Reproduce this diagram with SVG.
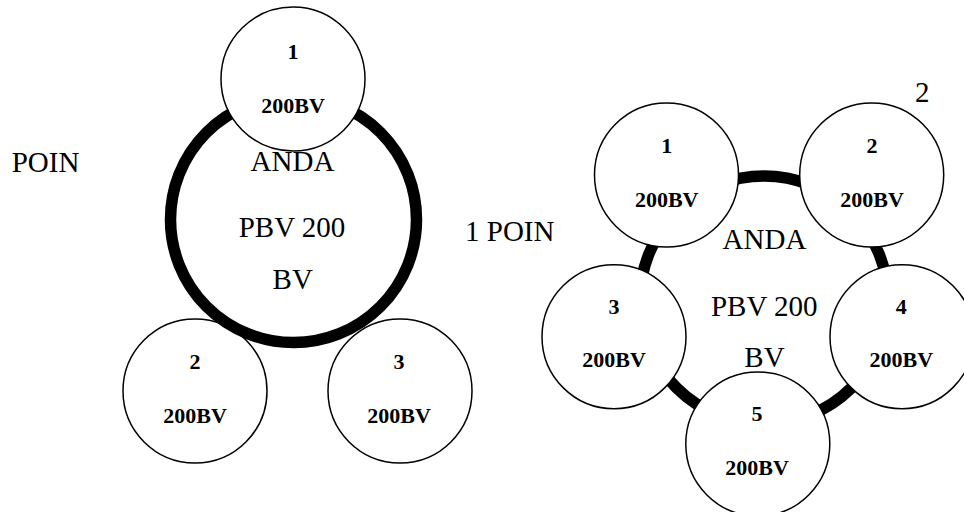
<svg xmlns="http://www.w3.org/2000/svg" width="964" height="512" viewBox="0 0 964 512">
  <style>
    .node { fill: #ffffff; stroke: #000000; stroke-width: 1.5; }
    .ring { fill: none; stroke: #000000; stroke-width: 11.5; }
    .lbl { font-family: "Liberation Serif", "Times New Roman", serif; font-weight: bold; font-size: 22px; fill: #000000; text-anchor: middle; }
    .big { font-family: "Liberation Serif", "Times New Roman", serif; font-size: 29px; fill: #000000; }
    .mid { text-anchor: middle; }
  </style>
  <rect width="964" height="512" fill="#ffffff"/>

  <!-- Left diagram -->
  <g id="left-node-2">
    <circle class="node" cx="195" cy="391" r="72"/>
    <text class="lbl" x="195" y="369">2</text>
    <text class="lbl" x="195" y="423">200BV</text>
  </g>
  <g id="left-node-3">
    <circle class="node" cx="400" cy="391" r="72"/>
    <text class="lbl" x="399" y="369">3</text>
    <text class="lbl" x="399" y="423">200BV</text>
  </g>
  <g id="left-hub">
    <circle class="ring" cx="293.5" cy="219.5" r="123"/>
    <text class="big mid" x="292.5" y="171">ANDA</text>
    <text class="big mid" x="292" y="237">PBV 200</text>
    <text class="big mid" x="292.7" y="289">BV</text>
  </g>
  <g id="left-node-1">
    <circle class="node" cx="293" cy="79" r="72"/>
    <text class="lbl" x="293" y="59">1</text>
    <text class="lbl" x="293" y="113">200BV</text>
  </g>
  <g id="left-caption">
    <text class="big" x="11.7" y="172">POIN</text>
  </g>

  <!-- Right diagram -->
  <g id="right-hub">
    <circle class="ring" cx="764" cy="300" r="124"/>
    <text class="big mid" x="764.5" y="249">ANDA</text>
    <text class="big mid" x="764.3" y="316">PBV 200</text>
    <text class="big mid" x="764.5" y="367">BV</text>
  </g>
  <g id="right-node-1">
    <circle class="node" cx="666.5" cy="175" r="72"/>
    <text class="lbl" x="666.7" y="153">1</text>
    <text class="lbl" x="666.7" y="207">200BV</text>
  </g>
  <g id="right-node-2">
    <circle class="node" cx="871.7" cy="175" r="72"/>
    <text class="lbl" x="872" y="153">2</text>
    <text class="lbl" x="872" y="207">200BV</text>
  </g>
  <g id="right-node-3">
    <circle class="node" cx="614" cy="336.7" r="72"/>
    <text class="lbl" x="614" y="314">3</text>
    <text class="lbl" x="614" y="367">200BV</text>
  </g>
  <g id="right-node-4">
    <circle class="node" cx="902" cy="336.7" r="72"/>
    <text class="lbl" x="901.3" y="314">4</text>
    <text class="lbl" x="901.3" y="367">200BV</text>
  </g>
  <g id="right-node-5">
    <circle class="node" cx="757.8" cy="444" r="72"/>
    <text class="lbl" x="757" y="421">5</text>
    <text class="lbl" x="757" y="474.5">200BV</text>
  </g>
  <g id="right-caption">
    <text class="big" x="465" y="241">1 POIN</text>
    <text class="big" x="915" y="102">2</text>
  </g>
</svg>
